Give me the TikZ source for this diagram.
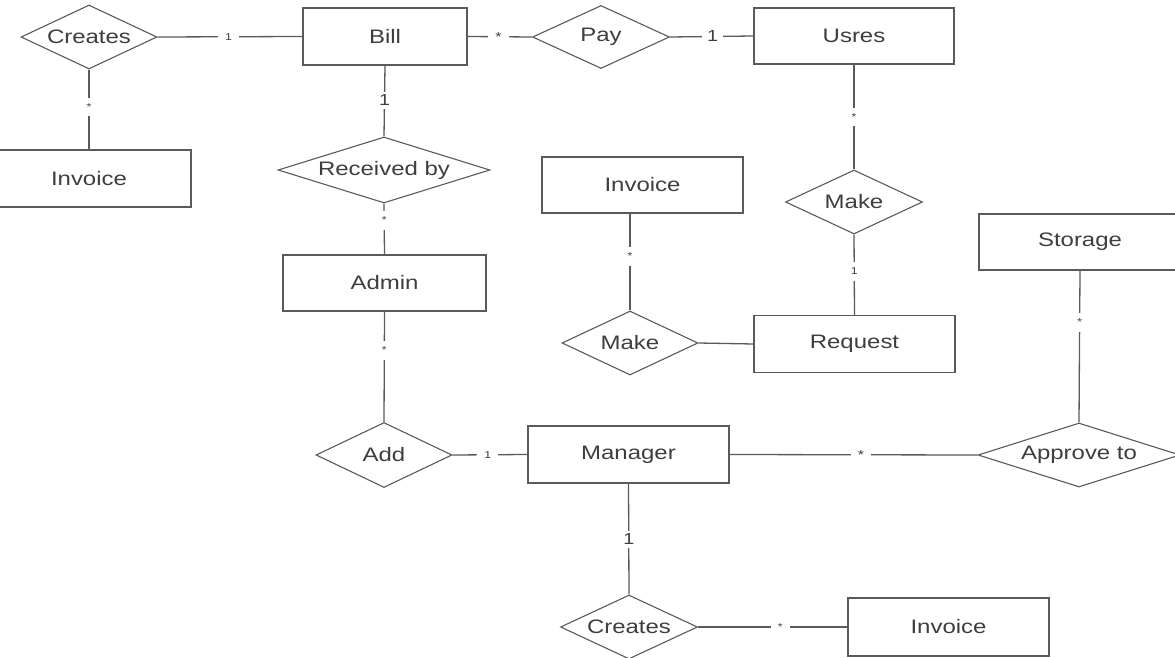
\documentclass[tikz,border=0pt]{standalone}
\usepackage{fontspec}
\setmainfont[FakeStretch=1.23]{Liberation Sans}
\usetikzlibrary{shapes.geometric}
\definecolor{edgegray}{HTML}{5A5A5A}
\definecolor{txtgray}{HTML}{3E3E3E}
\tikzset{
  entity/.style={draw=edgegray, line width=1.3pt, fill=white, rectangle,
    inner sep=0pt, text=txtgray, font=\fontsize{19.5}{22}\selectfont},
  relation/.style={draw=edgegray, line width=1.1pt, fill=white, diamond,
    inner sep=0pt, text=txtgray, font=\fontsize{19.5}{22}\selectfont},
  link/.style={draw=edgegray, line width=1.3pt},
  card/.style={fill=white, text=txtgray, inner xsep=7pt, inner ysep=2pt,
    font=\fontsize{10}{12}\selectfont},
  cardbig/.style={card, font=\fontsize{16}{18}\selectfont},
  cardmid/.style={card, font=\fontsize{13}{15}\selectfont},
}
\newcommand{\rel}[1]{\makebox[0pt]{#1}}
\begin{document}
\begin{tikzpicture}[x=1pt, y=-1pt]
\clip (0,0) rectangle (1175,658);
\fill[white] (0,0) rectangle (1175,658);

% entities
\node[entity, minimum width=164pt, minimum height=57pt] (bill) at (385,36.5) {Bill};
\node[entity, minimum width=200pt, minimum height=56pt] (usres) at (854,36) {Usres};
\node[entity, minimum width=204pt, minimum height=57pt] (inv1) at (89,178.5) {Invoice};
\node[entity, minimum width=201pt, minimum height=56pt] (inv2) at (642.5,185) {Invoice};
\node[entity, minimum width=202pt, minimum height=56pt] (storage) at (1080,242) {Storage};
\node[entity, minimum width=203pt, minimum height=56pt] (admin) at (384.5,283) {Admin};
\node[entity, minimum width=201pt, minimum height=57pt] (request) at (854.5,344) {Request};
\node[entity, minimum width=201pt, minimum height=57pt] (manager) at (628.5,454.5) {Manager};
\node[entity, minimum width=201pt, minimum height=58pt] (inv3) at (948.5,627) {Invoice};

% relationships
\node[relation, minimum width=136pt, minimum height=64pt] (cr1) at (89,37) {\rel{Creates}};
\node[relation, minimum width=137pt, minimum height=63pt] (pay) at (601,37) {\rel{Pay}};
\node[relation, minimum width=212pt, minimum height=66pt] (recv) at (384,170) {\rel{Received by}};
\node[relation, minimum width=137pt, minimum height=64pt] (make1) at (854,202) {\rel{Make}};
\node[relation, minimum width=136pt, minimum height=64pt] (make2) at (630,343) {\rel{Make}};
\node[relation, minimum width=136pt, minimum height=65pt] (add) at (384,455) {\rel{Add}};
\node[relation, minimum width=202pt, minimum height=64pt] (approve) at (1079,455) {\rel{Approve to}};
\node[relation, minimum width=137pt, minimum height=64pt] (cr2) at (629,627) {\rel{Creates}};

% connectors with cardinalities
\draw[link] (cr1.east) -- node[card, pos=0.49] (c1) {1} (bill.west);
\draw[link] (cr1.south) -- node[card, pos=0.47, inner xsep=3pt, inner ysep=6pt] (c2) {*} (cr1.south |- inv1.north);
\draw[link] (bill.east) -- node[cardmid, pos=0.48] (c3) {*} (pay.west);
\draw[link] (pay.east) -- node[cardbig, pos=0.51, inner xsep=5pt] (c4) {1} (usres.west);
\draw[link] (bill.south) -- node[cardbig, pos=0.49, inner xsep=2pt, inner ysep=3pt] (c5) {1} (recv.north);
\draw[link] (recv.south) -- node[card, pos=0.33, inner xsep=3pt, inner ysep=6pt] (c6) {*} (admin.north);
\draw[link] (admin.south) -- node[card, pos=0.35, inner xsep=3pt, inner ysep=6pt] (c7) {*} (add.north);
\draw[link] (add.east) -- node[card, pos=0.47] (c8) {1} (manager.west);
\draw[link] (manager.south) -- node[cardbig, pos=0.5, inner xsep=2pt, inner ysep=3pt] (c9) {1} (cr2.north);
\draw[link] (cr2.east) -- node[card, pos=0.55] (c10) {*} (inv3.west);
\draw[link] (manager.east) -- node[cardmid, pos=0.53] (c11) {*} (approve.west);
\draw[link] (storage.south) -- node[card, pos=0.34, inner xsep=3pt, inner ysep=6pt] (c12) {*} (approve.north);
\draw[link] (usres.south) -- node[card, pos=0.5, inner xsep=3pt, inner ysep=6pt] (c13) {*} (make1.north);
\draw[link] (make1.south) -- node[card, pos=0.46, inner xsep=3pt, inner ysep=6pt] (c14) {1} (request.north);
\draw[link] (make2.north |- inv2.south) -- node[card, pos=0.44, inner xsep=3pt, inner ysep=6pt] (c15) {*} (make2.north);
\draw[link] (make2.east) -- (request.west);
\end{tikzpicture}
\end{document}
